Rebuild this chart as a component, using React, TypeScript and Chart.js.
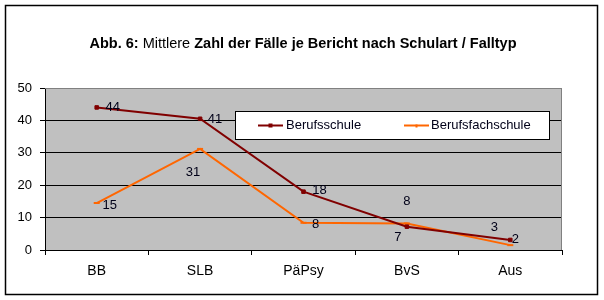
import React, { useEffect, useRef } from "react";
import { Chart, registerables } from "chart.js";

Chart.register(...registerables);

const categories = ["BB", "SLB", "PäPsy", "BvS", "Aus"];
const berufsschule = [44, 40.5, 18, 7.2, 3.1];
const berufsfachschule = [14.5, 31.2, 8.4, 8.2, 1.5];
const seriesNames = ["Berufsschule", "Berufsfachschule"];
const yTicks = [0, 10, 20, 30, 40, 50];
const titleParts: [string, boolean][] = [
  ["Abb. 6: ", true],
  ["Mittlere ", false],
  ["Zahl der Fälle je Bericht nach Schulart / Falltyp", true],
];

// label offsets (style), per series per point
const labelOffsets = [
  [[16, 0], [15, 1], [16, -1], [-9, 11], [-16, -13]],
  [[13, 2], [-7, 24], [12, 2], [0, -22], [5, -6]],
];

const FONT = "'Liberation Sans', Arial, sans-serif";

const decorPlugin = {
  id: "decor",
  beforeDraw(chart: any) {
    const { ctx, chartArea } = chart;
    ctx.save();
    ctx.fillStyle = "#ffffff";
    ctx.fillRect(0, 0, chart.width, chart.height);
    ctx.strokeStyle = "#000000";
    ctx.lineWidth = 1.5;
    ctx.strokeRect(5.5, 5.5, 592, 289);
    ctx.fillStyle = "#C0C0C0";
    ctx.fillRect(chartArea.left, chartArea.top, chartArea.right - chartArea.left, chartArea.bottom - chartArea.top);
    // title
    ctx.fillStyle = "#000000";
    ctx.textBaseline = "middle";
    let total = 0;
    const widths: number[] = [];
    for (const [t, b] of titleParts) {
      ctx.font = `${b ? "bold " : ""}14.5px ${FONT}`;
      const w = ctx.measureText(t).width;
      widths.push(w);
      total += w;
    }
    let x = 303 - total / 2;
    titleParts.forEach(([t, b], i) => {
      ctx.font = `${b ? "bold " : ""}14.5px ${FONT}`;
      ctx.textAlign = "left";
      ctx.fillText(t, x, 44);
      x += widths[i];
    });
    ctx.restore();
  },
  beforeDatasetsDraw(chart: any) {
    const { ctx, chartArea } = chart;
    ctx.save();
    ctx.strokeStyle = "#808080";
    ctx.lineWidth = 1;
    ctx.beginPath();
    ctx.moveTo(chartArea.left, chartArea.top + 0.5);
    ctx.lineTo(chartArea.right - 0.5, chartArea.top + 0.5);
    ctx.lineTo(chartArea.right - 0.5, chartArea.bottom);
    ctx.stroke();
    ctx.restore();
  },
  afterDatasetsDraw(chart: any) {
    const { ctx } = chart;
    ctx.save();
    ctx.font = `13px ${FONT}`;
    ctx.fillStyle = "#000018";
    ctx.textAlign = "center";
    ctx.textBaseline = "middle";
    chart.data.datasets.forEach((ds: any, di: number) => {
      const meta = chart.getDatasetMeta(di);
      meta.data.forEach((pt: any, i: number) => {
        const [dx, dy] = labelOffsets[di][i];
        ctx.fillText(String(Math.round(ds.data[i])), pt.x + dx, pt.y + dy);
      });
    });
    // legend
    const lx = 235.5, ly = 111.5, lw = 314, lh = 28;
    ctx.fillStyle = "#ffffff";
    ctx.fillRect(lx, ly, lw, lh);
    ctx.strokeStyle = "#000000";
    ctx.lineWidth = 1;
    ctx.strokeRect(lx, ly, lw, lh);
    const items = [
      { x0: 258, x1: 283, tx: 286 },
      { x0: 404, x1: 429, tx: 431 },
    ];
    chart.data.datasets.forEach((ds: any, di: number) => {
      const it = items[di];
      const cy = 125.5;
      ctx.strokeStyle = ds.borderColor;
      ctx.lineWidth = 2;
      ctx.beginPath();
      ctx.moveTo(it.x0, cy);
      ctx.lineTo(it.x1, cy);
      ctx.stroke();
      if (di === 0) {
        ctx.fillStyle = ds.borderColor;
        ctx.fillRect((it.x0 + it.x1) / 2 - 2, cy - 2, 4, 4);
      } else {
        ctx.fillStyle = ds.borderColor;
        ctx.fillRect((it.x0 + it.x1) / 2 - 1, cy - 1, 2, 3);
      }
      ctx.fillStyle = "#000018";
      ctx.textAlign = "left";
      ctx.font = `13px ${FONT}`;
      ctx.fillText(ds.label, it.tx, cy);
    });
    ctx.restore();
  },
};

export default function App() {
  const ref = useRef<HTMLCanvasElement>(null);
  useEffect(() => {
    const chart = new Chart(ref.current!, {
      type: "line",
      data: {
        labels: categories,
        datasets: [
          {
            label: seriesNames[0],
            data: berufsschule,
            borderColor: "#800000",
            backgroundColor: "#800000",
            borderWidth: 2,
            pointStyle: "rect",
            pointRadius: 2.5,
            pointBorderWidth: 1,
            tension: 0,
          },
          {
            label: seriesNames[1],
            data: berufsfachschule,
            borderColor: "#FF6600",
            backgroundColor: "#FF6600",
            borderWidth: 2,
            pointStyle: "line",
            pointRadius: 3,
            pointBorderWidth: 2,
            tension: 0,
          },
        ],
      },
      options: {
        responsive: false,
        animation: false,
        devicePixelRatio: 1,
        layout: { padding: { top: 88, left: 0, right: 42, bottom: 0 } },
        plugins: {
          legend: { display: false },
          title: { display: false },
          tooltip: { enabled: false },
        },
        scales: {
          x: {
            type: "category",
            offset: true,
            grid: {
              offset: true,
              drawOnChartArea: false,
              drawTicks: true,
              tickLength: 5,
              color: "#000000",
            },
            border: { color: "#000000", width: 1 },
            ticks: {
              color: "#000000",
              font: { family: FONT, size: 14 },
              padding: 8,
              maxRotation: 0,
            },
            afterFit(scale: any) {
              scale.height = 50;
            },
          },
          y: {
            min: 0,
            max: 50,
            afterBuildTicks(scale: any) {
              scale.ticks = yTicks.map((v) => ({ value: v }));
            },
            grid: {
              color: (c: any) => (c.tick && c.tick.value === 50 ? "#808080" : "#000000"),
              tickColor: "#000000",
              drawTicks: true,
              tickLength: 5,
            },
            border: { color: "#000000", width: 1 },
            ticks: {
              color: "#000000",
              font: { family: FONT, size: 13 },
              padding: 8,
            },
            afterFit(scale: any) {
              scale.width = 45;
            },
          },
        },
      },
      plugins: [decorPlugin],
    });
    return () => chart.destroy();
  }, []);
  return (
    <div style={{ position: "absolute", left: 0, top: 0, width: 604, height: 300 }}>
      <canvas ref={ref} width={604} height={300} style={{ width: 604, height: 300, display: "block" }} />
    </div>
  );
}
